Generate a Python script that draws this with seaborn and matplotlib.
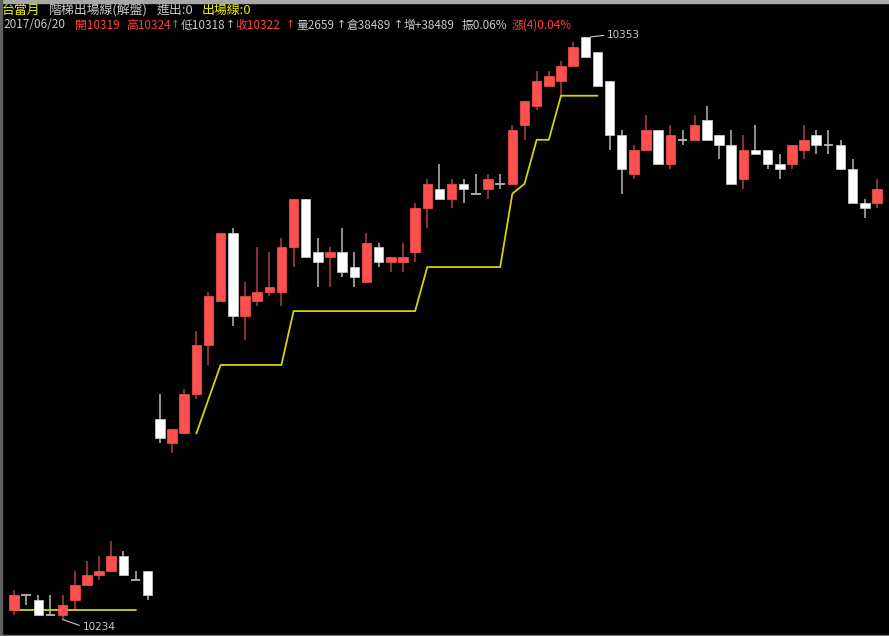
import numpy as np
import pandas as pd
import matplotlib
matplotlib.use("Agg")
import matplotlib.pyplot as plt
from matplotlib.patches import Rectangle
import seaborn as sns

# K bars (台當月), oldest -> newest
opens = [10236, 10239, 10238, 10235, 10235, 10238, 10241, 10243, 10244, 10247, 10242, 10244,
         10275, 10270, 10272, 10280, 10290, 10299, 10313, 10296, 10299, 10301, 10301, 10310,
         10320, 10309, 10308, 10309, 10306, 10303, 10310, 10307, 10307, 10309, 10318, 10322,
         10320, 10323, 10321, 10322, 10323, 10323, 10335, 10339, 10343, 10344, 10347, 10353,
         10350, 10344, 10333, 10325, 10330, 10334, 10327, 10332, 10332, 10336, 10333, 10331,
         10324, 10330, 10330, 10327, 10327, 10330, 10333, 10331, 10331, 10326, 10319, 10319]
highs = [10240, 10239, 10239, 10239, 10239, 10244, 10246, 10247, 10250, 10248, 10244, 10244,
         10280, 10273, 10281, 10293, 10301, 10313, 10314, 10303, 10310, 10309, 10312, 10320,
         10320, 10312, 10310, 10314, 10309, 10313, 10311, 10308, 10311, 10319, 10324, 10327,
         10324, 10324, 10325, 10325, 10325, 10335, 10340, 10346, 10346, 10348, 10352, 10353,
         10350, 10344, 10334, 10331, 10337, 10334, 10335, 10334, 10337, 10339, 10333, 10334,
         10333, 10335, 10330, 10329, 10331, 10335, 10334, 10334, 10332, 10328, 10320, 10324]
lows = [10235, 10237, 10235, 10235, 10234, 10236, 10241, 10242, 10244, 10243, 10242, 10238,
        10270, 10268, 10272, 10279, 10286, 10299, 10294, 10291, 10298, 10300, 10298, 10306,
        10308, 10302, 10302, 10304, 10302, 10303, 10306, 10305, 10305, 10307, 10314, 10320,
        10318, 10319, 10321, 10320, 10322, 10323, 10332, 10338, 10343, 10341, 10347, 10349,
        10343, 10330, 10321, 10324, 10330, 10327, 10326, 10331, 10332, 10332, 10328, 10323,
        10322, 10329, 10326, 10324, 10326, 10328, 10329, 10329, 10326, 10319, 10316, 10318]
closes = [10239, 10239, 10235, 10235, 10237, 10241, 10243, 10244, 10247, 10243, 10242, 10239,
          10271, 10273, 10280, 10290, 10300, 10313, 10296, 10300, 10301, 10302, 10310, 10320,
          10308, 10307, 10309, 10305, 10304, 10311, 10307, 10308, 10308, 10318, 10323, 10320,
          10323, 10322, 10321, 10324, 10323, 10334, 10340, 10344, 10345, 10347, 10351, 10349,
          10343, 10333, 10326, 10330, 10334, 10327, 10333, 10332, 10335, 10332, 10331, 10323,
          10330, 10329, 10327, 10326, 10331, 10332, 10331, 10331, 10326, 10319, 10318, 10322]

# 階梯出場線 (None = not drawn)
exit_line = [10236] * 11 + [None] * 4 + [10272, 10279] + [10286] * 6 + [10297] * 11 \
    + [10306] * 7 + [10321, 10323, 10332, 10332] + [10341] * 4 + [None] * 23

RED = "#ff5050"
RED_WICK = "#b04040"
WHITE = "#ffffff"
WHITE_WICK = "#b8b8b8"
YELLOW = "#d4d400"
TXT = "#c8c8c8"
HDR_RED = "#ff4040"
HDR_YEL = "#f0f000"

sns.set_style("dark", {"axes.facecolor": "black", "figure.facecolor": "black"})
plt.rcParams["font.family"] = ["Noto Sans CJK TC", "DejaVu Sans"]

o = np.array(opens, dtype=float)
h = np.array(highs, dtype=float)
l = np.array(lows, dtype=float)
c = np.array(closes, dtype=float)
idx = np.arange(len(o))
up = c > o
down = c < o
flat = c == o

fig = plt.figure(figsize=(8.89, 6.36), dpi=100)
ax = fig.add_axes([0, 0, 1, 1])
ax.set_facecolor("black")

# wicks
wick_cols = [RED_WICK if u else WHITE_WICK for u in up]
ax.vlines(idx, l, h, colors=wick_cols, linewidth=1.1, zorder=2)

# exit line
df = pd.DataFrame({"x": idx, "y": exit_line})
df["y"] = pd.to_numeric(df["y"])
df["seg"] = df["y"].isna().cumsum()
df = df.dropna()
sns.lineplot(data=df, x="x", y="y", units="seg", estimator=None, color=YELLOW,
             linewidth=1.3, ax=ax, zorder=3, legend=False)

# bodies
bw = 0.78
ax.bar(idx[up], (c - o)[up], bottom=o[up], width=bw, color=RED, edgecolor=RED,
       linewidth=0.5, zorder=4)
ax.bar(idx[down], (o - c)[down], bottom=c[down], width=bw, color=WHITE,
       edgecolor="#d0d0d0", linewidth=0.5, zorder=4)
ax.hlines(o[flat], idx[flat] - bw / 2, idx[flat] + bw / 2, colors=WHITE_WICK,
          linewidth=1.3, zorder=4)

# pixel mapping: first bar at x=14px, 12.155px per bar; 10353 at y=37px, 4.895px per point
ax.set_xlim(-14 / 12.155, (889 - 14) / 12.155)
ax.set_ylim(10353 - (636 - 37) / 4.895, 10353 + 37 / 4.895)
ax.set_axis_off()

# high / low marks
ih = int(np.argmax(h))
ax.annotate(f"{int(h[ih])}", xy=(ih + 0.4, h[ih]), xytext=(17, 2), textcoords="offset pixels",
            ha="left", va="center", color=TXT, fontsize=7.5, family="DejaVu Sans",
            arrowprops=dict(arrowstyle="-", color=TXT, lw=0.8, shrinkA=0, shrinkB=0,
                            relpos=(0, 0.5)))
il = int(np.argmin(l))
ax.annotate(f"{int(l[il])}", xy=(il, l[il]), xytext=(20, -7), textcoords="offset pixels",
            ha="left", va="center", color=TXT, fontsize=7.5, family="DejaVu Sans",
            arrowprops=dict(arrowstyle="-", color=TXT, lw=0.8, shrinkA=0, shrinkB=0,
                            relpos=(0, 0.5)))

# header
def hdr(xpx, ypx, s, col, size=8.5, ha="left", family=None):
    kw = {"family": family} if family else {}
    fig.text(xpx / 889, 1 - ypx / 636, s, color=col, fontsize=size, ha=ha, va="center", **kw)

def arrow(xpx, col):
    hdr(xpx, 24.5, "↑", col, size=7.8, ha="center", family="DejaVu Sans")

hdr(2, 10, "台當月", HDR_YEL, size=9.3)
hdr(49, 10, "階梯出場線(解盤)", TXT, size=9.3)
hdr(157, 10, "進出:0", TXT, size=9.3)
hdr(202, 10, "出場線:0", HDR_YEL, size=9.3)

hdr(3, 25, "2017/06/20", TXT)
hdr(75, 25, "開10319", HDR_RED)
hdr(126, 25, "高10324", HDR_RED)
arrow(175.5, HDR_RED)
hdr(181, 25, "低10318", TXT)
arrow(230.5, TXT)
hdr(235, 25, "收10322", HDR_RED)
arrow(290, HDR_RED)
hdr(296, 25, "量2659", TXT)
arrow(341.5, TXT)
hdr(347, 25, "倉38489", TXT)
arrow(398.5, TXT)
hdr(404, 25, "增+38489", TXT)
hdr(462, 25, "振0.06%", TXT)
hdr(512, 25, "漲(4)0.04%", HDR_RED)

# window frame
fig.add_artist(Rectangle((0, 1 - 3 / 636), 1, 3 / 636, transform=fig.transFigure,
                         color="#a8a8a8", zorder=10))
fig.add_artist(Rectangle((0, 0), 1.5 / 889, 1, transform=fig.transFigure,
                         color="#606060", zorder=10))
fig.add_artist(Rectangle((0, 0), 1, 1.5 / 636, transform=fig.transFigure,
                         color="#707070", zorder=10))

fig.savefig("out.png", dpi=100, facecolor="black")
